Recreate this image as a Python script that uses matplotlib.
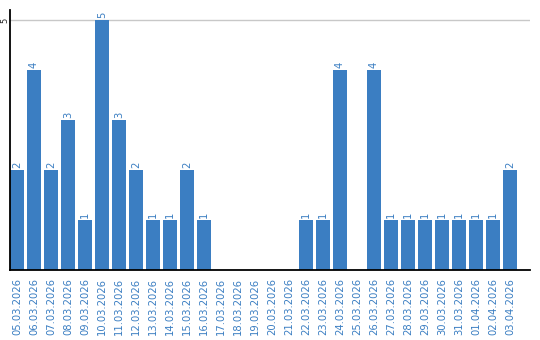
import matplotlib
matplotlib.use("Agg")
import matplotlib.pyplot as plt

dates = ["05.03.2026", "06.03.2026", "07.03.2026", "08.03.2026", "09.03.2026",
         "10.03.2026", "11.03.2026", "12.03.2026", "13.03.2026", "14.03.2026",
         "15.03.2026", "16.03.2026", "17.03.2026", "18.03.2026", "19.03.2026",
         "20.03.2026", "21.03.2026", "22.03.2026", "23.03.2026", "24.03.2026",
         "25.03.2026", "26.03.2026", "27.03.2026", "28.03.2026", "29.03.2026",
         "30.03.2026", "31.03.2026", "01.04.2026", "02.04.2026", "03.04.2026"]
counts = [2, 4, 2, 3, 1, 5, 3, 2, 1, 1, 2, 1, 0, 0, 0, 0, 0, 1, 1, 4,
          0, 4, 1, 1, 1, 1, 1, 1, 1, 2]

blue = "#3b7ec2"

fig = plt.figure(figsize=(5.4, 3.4), dpi=100)
ax = fig.add_axes([10 / 540, 1 - 270 / 340, 520 / 540, 260 / 340])

x = list(range(len(dates)))
ax.bar(x, counts, width=14 / 17, color=blue, zorder=2)

for i, v in zip(x, counts):
    if v > 0:
        ax.text(i, v + 0.05, str(v), rotation=90, ha="center", va="bottom",
                fontsize=7.2, color=blue)

ax.set_xlim(-0.41, -0.41 + 520 / 17)
ax.set_ylim(0, 5.2)
ax.set_yticks([5])
ax.set_yticklabels([])
ax.yaxis.grid(True, color="#c8c8c8", linewidth=1, zorder=0)
ax.tick_params(axis="y", length=0)
# y tick label drawn by hand so it fits into the narrow left margin
ax.annotate("5", xy=(0, 5), xycoords=("axes fraction", "data"),
            xytext=(-5, 0), textcoords="offset pixels", rotation=90,
            ha="center", va="center", fontsize=6, color="#222222")

ax.set_xticks(x)
ax.set_xticklabels(dates, rotation=90, fontsize=7.2, color=blue)
ax.tick_params(axis="x", length=0, pad=6)

for side in ["top", "right"]:
    ax.spines[side].set_visible(False)
ax.spines["left"].set_linewidth(1.3)
ax.spines["bottom"].set_linewidth(1.3)

fig.savefig("out.png", dpi=100)
